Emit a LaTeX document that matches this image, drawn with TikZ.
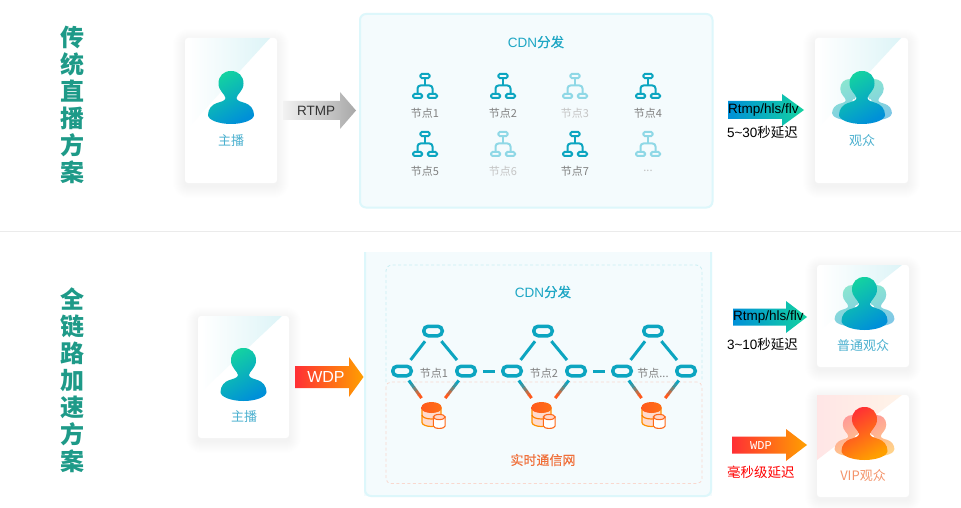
\documentclass[tikz,border=0pt]{standalone}
\usepackage{fontspec}
\setmainfont{Liberation Sans}
\newfontfamily\cjk{Noto Sans CJK SC}
\newfontfamily\cjkm[FakeBold=0.35]{Noto Sans CJK SC}
\setmonofont{Liberation Mono}
\usetikzlibrary{calc}
\definecolor{teal1}{HTML}{0CA5C0}
\definecolor{teal2}{HTML}{8FD8E6}
\definecolor{capt}{HTML}{4BB0CF}
\definecolor{cdn}{HTML}{1DA6C4}
\definecolor{greyt}{HTML}{808080}
\definecolor{greyl}{HTML}{C4C4C4}
\definecolor{ttl}{HTML}{1E9A88}
\definecolor{panelbg}{HTML}{F4FBFD}
\definecolor{panelln}{HTML}{DDF7FB}
\definecolor{orangeT}{HTML}{F0703A}
\definecolor{linkO}{HTML}{FF5A1E}
\definecolor{pgreen}{HTML}{14D3A0}
\definecolor{pblue}{HTML}{0090D8}
\definecolor{lgreen}{HTML}{8BE6D0}
\definecolor{lblue}{HTML}{80C8E6}
\definecolor{pred}{HTML}{FF2F35}
\definecolor{porange}{HTML}{FFA000}
\definecolor{lred}{HTML}{FF9A98}
\definecolor{lorange}{HTML}{FFD28A}
\definecolor{cornerc}{HTML}{DDF4F7}
\definecolor{dashc}{HTML}{C8EDF2}
\definecolor{dashp}{HTML}{F9D8CF}
\newcommand{\fs}[1]{\fontsize{#1}{#1}\selectfont}
\tikzset{
  txt/.style={inner sep=0pt,outer sep=0pt,anchor=center},
  capt/.style={txt,text=capt,font=\cjk\fs{13}},
  nodelabel/.style={txt,text=greyt,font=\cjk\fs{11}},
  nodefaded/.style={txt,text=greyl,font=\cjk\fs{11}},
  title/.style={txt,text=ttl,font=\cjk\bfseries\fs{24}},
  cdnlabel/.style={txt,text=cdn,font=\fs{13.5}},
  capsule/.style={draw=teal1,line width=3.5pt,rounded corners=4.5pt,minimum width=18.5pt,minimum height=9.5pt,inner sep=0pt,outer sep=0pt},
  nlink/.style={draw=teal1,line width=3pt},
  iconbox/.style={rounded corners=1.5pt,line width=2pt},
  dashbox/.style={rounded corners=6pt,line width=.8pt,dash pattern=on 3pt off 2.5pt},
  note/.style={txt,anchor=west,text=black,font=\fs{13.5}},
}
\newcommand{\personpath}{
  (0,0) .. controls (7.5,0) and (12.5,5) .. (12.5,12.5)
  .. controls (12.5,20) and (6,23) .. (5.5,27)
  .. controls (5.5,30) and (11,31) .. (14,32)
  .. controls (19,33.5) and (23,38) .. (23,44)
  .. controls (23,49) and (12,53) .. (0,53)
  .. controls (-12,53) and (-23,49) .. (-23,44)
  .. controls (-23,38) and (-19,33.5) .. (-14,32)
  .. controls (-11,31) and (-5.5,30) .. (-5.5,27)
  .. controls (-6,23) and (-12.5,20) .. (-12.5,12.5)
  .. controls (-12.5,5) and (-7.5,0) .. (0,0) -- cycle}
\newcommand{\person}[4]{%
  \begin{scope}[shift={(#1,#2)}]
    \shade[top color=#3,bottom color=#4,shading angle=30] \personpath;
  \end{scope}}
\newcommand{\crowd}[6]{%
  \begin{scope}[shift={(#1,#2)}]
    \begin{scope}[shift={(-12,8)},scale=.78]
      \shade[top color=#5,bottom color=#6,shading angle=30] \personpath;
    \end{scope}
    \begin{scope}[shift={(12,8)},scale=.78]
      \shade[top color=#5,bottom color=#6,shading angle=30] \personpath;
    \end{scope}
    \fill[white] (-8,29.5) circle (1.7pt) (8,29.5) circle (1.7pt);
    \shade[top color=#3,bottom color=#4,shading angle=30] \personpath;
  \end{scope}}
\newcommand{\card}[4]{%
  \foreach \k in {1,...,12}{
    \fill[black,fill opacity=.0035,rounded corners={3pt+\k*1pt}]
      ($(#1,#2+3)+(-\k*1,-\k*1)$) rectangle ($(#3,#4+3)+(\k*1,\k*1)$);
  }
  \fill[white,rounded corners=3pt] (#1,#2) rectangle (#3,#4);}
\newcommand{\corner}[3]{%
  \foreach \yt/\yb in {#3}{
    \shade[left color=white,right color=cornerc]
      (#1,\yt) -- (#2,\yt) -- (#1,\yb) -- cycle;
  }}
\newcommand{\arrowshape}[8]{%
  \shade[left color=#7,right color=#8]
    (#1,#4-#5) -- (#2,#4-#5) -- (#2,#4-#6) -- (#3,#4) -- (#2,#4+#6) -- (#2,#4+#5) -- (#1,#4+#5) -- cycle;}
\newcommand{\treeicon}[3]{%
  \begin{scope}[shift={(#1,#2)}]
    \draw[#3,iconbox] (-4.6,-2.1) rectangle (4.6,2.1);
    \draw[#3,iconbox] (-12,18) rectangle (-2.9,22);
    \draw[#3,iconbox] (2.9,18) rectangle (12,22);
    \draw[#3,line width=2pt] (0,2.2) -- (0,9.5);
    \draw[#3,line width=2pt,rounded corners=3pt] (-7.5,17.8) -- (-7.5,9.5) -- (7.5,9.5) -- (7.5,17.8);
  \end{scope}}
\newcommand{\dbicon}[2]{%
  \begin{scope}[shift={(#1,#2)}]
    \filldraw[fill=linkO!22,draw=porange!90!red,line width=1.2pt]
      (-9.5,6) -- (-9.5,20.5) arc[x radius=9.5,y radius=4,start angle=180,end angle=0] -- (9.5,6) -- cycle;
    \draw[porange!80!red,line width=1.2pt] (-9.5,13) arc[x radius=9.5,y radius=4,start angle=180,end angle=0];
    \shade[left color=linkO,right color=linkO!70!porange]
      (-10,5) arc[x radius=10,y radius=5,start angle=180,end angle=360] -- (10,6.5) arc[x radius=10,y radius=4.5,start angle=0,end angle=180] -- cycle;
    \filldraw[fill=white,draw=linkO!80!porange,line width=1.1pt]
      (1.8,15) -- (1.8,24) arc[x radius=5.9,y radius=2.4,start angle=180,end angle=0] -- (13.6,15) -- cycle;
    \filldraw[fill=linkO!25,draw=linkO!80!porange,line width=1.1pt] (7.7,15) ellipse[x radius=5.9,y radius=2.6];
  \end{scope}}
\newcommand{\gradlink}[2]{%
  \foreach \s/\e/\m in {.22/.31/0,.30/.39/20,.38/.47/45,.46/.55/75,.54/.63/100}{
    \draw[draw=linkO!\m!teal1,line width=3pt] ($(#1)!\s!(#2)$) -- ($(#1)!\e!(#2)$);
  }}
\begin{document}
\begin{tikzpicture}[x=1pt,y=-1pt]
\useasboundingbox (0,0) rectangle (961,508);
\fill[white] (0,0) rectangle (961,508);

\draw[color=black!8,line width=1pt] (0,231.5) -- (961,231.5);

\foreach \c [count=\i from 0] in {传,统,直,播,方,案}{
  \node[title] (ta\i) at (72,{37+27*\i}) {\c};
}
\foreach \c [count=\i from 0] in {全,链,路,加,速,方,案}{
  \node[title] (tb\i) at (72,{299+27.1*\i}) {\c};
}

% top row
\card{185}{38}{277}{183}
\corner{188}{270}{38/128}
\person{231}{71}{pgreen}{pblue}
\node[capt] (host1) at (231,141) {主播};

\arrowshape{283}{340}{356}{110.5}{9.5}{18.5}{black!5}{black!34}
\node[txt,text=black!80,font=\fs{13.5}] (rtmp) at (316,111) {RTMP};

\fill[panelbg,draw=panelln,line width=2pt,rounded corners=6pt] (360,14) rectangle (712.5,207.5);
\node[cdnlabel] (cdn1) at (536,42) {CDN{\cjkm 分发}};

\treeicon{425}{76}{teal1}
\treeicon{503}{76}{teal1}
\treeicon{575}{76}{teal2}
\treeicon{648}{76}{teal1}
\treeicon{425}{134}{teal1}
\treeicon{503}{134}{teal2}
\treeicon{575}{134}{teal1}
\treeicon{648}{134}{teal2}
\node[nodelabel] (n1) at (425,113.5) {节点1};
\node[nodelabel] (n2) at (503,113.5) {节点2};
\node[nodefaded] (n3) at (575,113.5) {节点3};
\node[nodelabel] (n4) at (648,113.5) {节点4};
\node[nodelabel] (n5) at (425,171.5) {节点5};
\node[nodefaded] (n6) at (503,171.5) {节点6};
\node[nodelabel] (n7) at (575,171.5) {节点7};
\node[nodefaded,text=black!25] (n8) at (648,171) {...};

\arrowshape{728}{782}{804}{110}{9}{16}{pblue}{pgreen}
\node[note] (rt1) at (728,110) {Rtmp/hls/flv};
\node[note] (d1) at (727,132) {5\textasciitilde 30{\cjk 秒延迟}};

\card{815}{38}{908}{183}
\corner{818}{901}{38/128}
\crowd{862}{71}{pgreen}{pblue}{lgreen}{lblue}
\node[capt] (aud1) at (862,141) {观众};

% bottom row
\card{198}{316}{289}{438}
\corner{201}{282}{316/392}
\person{243.5}{348}{pgreen}{pblue}
\node[capt] (host2) at (244,417) {主播};

\arrowshape{295}{349}{363.5}{377}{11}{20}{pred}{porange}
\node[txt,text=white,font=\fs{16}] (wdp1) at (326,377) {WDP};

\fill[panelbg] (364,252) rectangle (712,496);
\draw[panelln,line width=2pt,rounded corners=6pt] (365,252) -- (365,496) -- (711,496) -- (711,252);
\node[cdnlabel] (cdn2) at (543,292) {CDN{\cjkm 分发}};

\draw[dashbox,draw=dashc] (386,382) -- (386,265) -- (702,265) -- (702,382);
\draw[dashbox,draw=dashp,rounded corners=5pt] (386,382) rectangle (702,483.5);

\foreach \x/\i in {433/1,543/2,653/3}{
  \node[capsule] (t\i) at (\x,331) {};
  \node[capsule] (l\i) at ({\x-31},371) {};
  \node[capsule] (r\i) at ({\x+33},371) {};
  \coordinate (db\i) at (\x,414);
  \draw[nlink,shorten <=7pt,shorten >=8pt] (t\i) -- (l\i);
  \draw[nlink,shorten <=7pt,shorten >=8pt] (t\i) -- (r\i);
  \gradlink{l\i}{db\i}
  \gradlink{r\i}{db\i}
  \dbicon{\x-1.5}{402}
}
\draw[nlink,shorten <=8pt,shorten >=8pt] (r1) -- (l2);
\draw[nlink,shorten <=8pt,shorten >=8pt] (r2) -- (l3);
\node[nodelabel] (b1) at (434,373) {节点1};
\node[nodelabel] (b2) at (544,373) {节点2};
\node[nodelabel] (b3) at (653,373) {节点...};
\node[txt,text=orangeT,font=\cjkm\fs{13}] (rtc) at (543,460) {实时通信网};

\arrowshape{733}{786}{807}{317}{8.5}{16}{pblue}{pgreen}
\node[note] (rt2) at (733,317) {Rtmp/hls/flv};
\node[note] (d2) at (727,344) {3\textasciitilde 10{\cjk 秒延迟}};

\arrowshape{732}{786}{807}{445}{8.5}{16}{pred}{porange}
\node[txt,text=white,font=\ttfamily\fs{12}] (wdp2) at (761,445.5) {WDP};
\node[note,text=red] (d3) at (727,472) {\cjk 毫秒级延迟};

\card{817}{265}{909}{367}
\corner{820}{902}{265/330}
\crowd{864.5}{277}{pgreen}{pblue}{lgreen}{lblue}
\node[capt] (aud2) at (863,346) {普通观众};

\card{817}{395}{909}{497}
\shade[left color=red!10!white,right color=orange!9!white]
  (817,395) -- (902,395) -- (817,460) -- cycle;
\crowd{864.5}{407}{pred}{porange}{lred}{lorange}
\node[capt,text=orangeT!75] (aud3) at (863,476) {VIP观众};
\end{tikzpicture}
\end{document}
